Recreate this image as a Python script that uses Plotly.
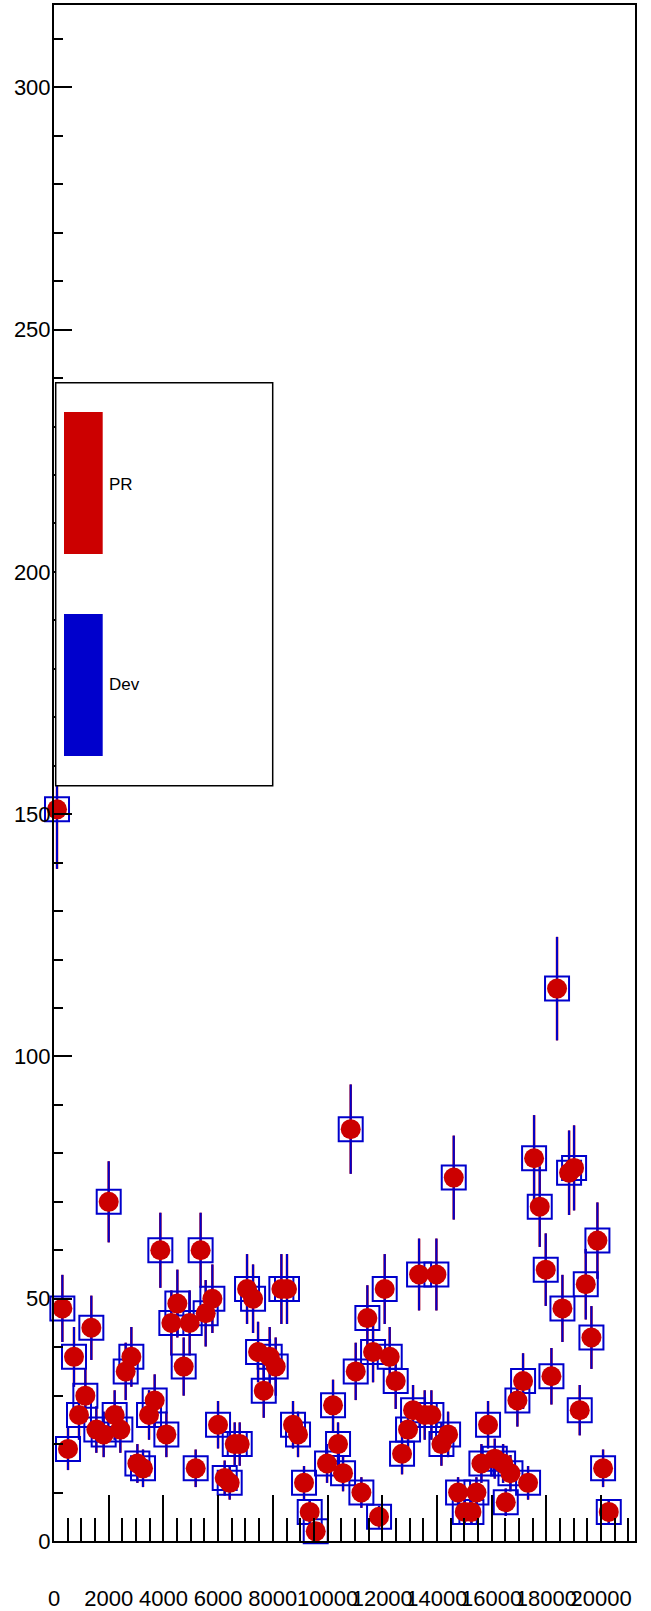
import numpy as np
import plotly.graph_objects as go

# ---- data ----
x_vals = [110, 306, 512, 731, 914, 1146, 1365, 1548, 1816, 2000,
          2218, 2426, 2621, 2828, 3048, 3254, 3474, 3681, 3888, 4108,
          4290, 4510, 4741, 4960, 5180, 5360, 5545, 5790, 5997, 6240,
          6423, 6607, 6790, 7057, 7277, 7460, 7668, 7886, 8105, 8312,
          8518, 8738, 8921, 9140, 9348, 9568, 9982, 10201, 10384, 10567,
          10847, 11030, 11237, 11456, 11664, 11883, 12090, 12273, 12492, 12724,
          12943, 13126, 13346, 13553, 13797, 13980, 14163, 14407, 14614, 14772,
          15016, 15260, 15443, 15625, 15868, 16114, 16418, 16515, 16687, 16941,
          17148, 17331, 17551, 17758, 17977, 18185, 18390, 18587, 18830, 19013,
          19220, 19440, 19647, 19866, 20073, 20281]

pr_counts = [151, 48, 19, 38, 26, 30, 44, 23, 22, 70,
             26, 23, 35, 38, 16, 15, 26, 29, 60, 22,
             45, 49, 36, 45, 15, 60, 47, 50, 24, 13,
             12, 20, 20, 52, 50, 39, 31, 38, 36, 52,
             52, 24, 22, 12, 6, 2, 16, 28, 20, 14,
             85, 35, 10, 46, 39, 5, 52, 38, 33, 18,
             23, 27, 55, 26, 26, 55, 20, 22, 75, 10,
             6, 6, 10, 16, 24, 17, 16, 8, 14, 29,
             33, 12, 79, 69, 56, 34, 114, 48, 76, 77,
             27, 53, 42, 62, 15, 6]

dev_counts = [151, 48, 19, 38, 26, 30, 44, 23, 22, 70,
              26, 23, 35, 38, 16, 15, 26, 29, 60, 22,
              45, 49, 36, 45, 15, 60, 47, 50, 24, 13,
              12, 20, 20, 52, 50, 39, 31, 38, 36, 52,
              52, 24, 22, 12, 6, 2, 16, 28, 20, 14,
              85, 35, 10, 46, 39, 5, 52, 38, 33, 18,
              23, 27, 55, 26, 26, 55, 20, 22, 75, 10,
              6, 6, 10, 16, 24, 17, 16, 8, 14, 29,
              33, 12, 79, 69, 56, 34, 114, 48, 76, 77,
              27, 53, 42, 62, 15, 6]

series_names = ["PR", "Dev"]
x_tick_vals = [0, 2000, 4000, 6000, 8000, 10000, 12000, 14000, 16000, 18000, 20000]
y_tick_vals = [0, 50, 100, 150, 200, 250, 300]

# Poisson (sqrt N) uncertainties, as drawn by the original histogram
pr_err = np.sqrt(np.array(pr_counts, dtype=float))
dev_err = np.sqrt(np.array(dev_counts, dtype=float))

RED = "#cc0000"
BLUE = "#0000cc"
FONT = "Liberation Sans, Arial, Helvetica, sans-serif"

fig = go.Figure()

# PR error bars (underneath)
fig.add_trace(go.Scatter(
    x=x_vals, y=pr_counts, mode="markers", name=series_names[0],
    marker=dict(size=1, color="rgba(0,0,0,0)"),
    error_y=dict(type="data", array=pr_err, visible=True, color=RED,
                 thickness=2.5, width=0),
    showlegend=False, cliponaxis=False, hoverinfo="skip"))

# Dev: open squares with blue error bars
fig.add_trace(go.Scatter(
    x=x_vals, y=dev_counts, mode="markers", name=series_names[1],
    marker=dict(symbol="square-open", size=24, color=BLUE,
                line=dict(width=2, color=BLUE)),
    error_y=dict(type="data", array=dev_err, visible=True, color=BLUE,
                 thickness=2, width=0),
    showlegend=False, cliponaxis=False))

# PR: filled red circles on top
fig.add_trace(go.Scatter(
    x=x_vals, y=pr_counts, mode="markers", name=series_names[0],
    marker=dict(symbol="circle", size=20, color=RED, line=dict(width=0)),
    showlegend=False, cliponaxis=False))

# ---- layout geometry ----
L, R, T, B = 54, 16, 5, 70
W, H = 651, 1611
pw, ph = W - L - R, H - T - B

def px(xp):
    return (xp - L) / pw

def py(yp):
    return (H - B - yp) / ph

shapes = [
    # legend frame
    dict(type="rect", xref="paper", yref="paper",
         x0=px(55.7), x1=px(272.7), y0=py(785.7), y1=py(382.7),
         line=dict(color="black", width=1.5), fillcolor="white", layer="above"),
    # PR swatch
    dict(type="rect", xref="paper", yref="paper",
         x0=px(64), x1=px(102.7), y0=py(554), y1=py(412),
         line=dict(width=0), fillcolor=RED, layer="above"),
    # Dev swatch
    dict(type="rect", xref="paper", yref="paper",
         x0=px(64), x1=px(102.7), y0=py(756), y1=py(614),
         line=dict(width=0), fillcolor=BLUE, layer="above"),
]

annotations = [
    dict(xref="paper", yref="paper", x=px(106.5), y=py(484.7), text=series_names[0],
         showarrow=False, xanchor="left", yanchor="middle",
         font=dict(family=FONT, size=17, color="black")),
    dict(xref="paper", yref="paper", x=px(106.5), y=py(684.7), text=series_names[1],
         showarrow=False, xanchor="left", yanchor="middle",
         font=dict(family=FONT, size=17, color="black")),
]

fig.update_layout(
    width=W, height=H,
    margin=dict(l=L, r=R, t=T, b=B, pad=0, autoexpand=False),
    paper_bgcolor="white", plot_bgcolor="white",
    showlegend=False,
    shapes=shapes, annotations=annotations,
    font=dict(family=FONT, color="black"),
)

fig.update_xaxes(
    range=[0, 21240], automargin=False,
    tickmode="array", tickvals=x_tick_vals, ticktext=[str(v) for v in x_tick_vals],
    tickangle=0,
    ticks="inside", ticklen=46, tickwidth=2, tickcolor="black",
    minor=dict(dtick=500, tick0=0, ticks="inside", ticklen=23, tickwidth=2, tickcolor="black"),
    showline=True, linewidth=2, linecolor="black", mirror=True,
    showgrid=False, zeroline=False,
    tickfont=dict(family=FONT, size=22, color="black"),
    ticklabelstandoff=37,
)

fig.update_yaxes(
    range=[0, 317], automargin=False,
    tickmode="array", tickvals=y_tick_vals, ticktext=[str(v) for v in y_tick_vals],
    ticks="inside", ticklen=18, tickwidth=2, tickcolor="black",
    minor=dict(dtick=10, tick0=0, ticks="inside", ticklen=9, tickwidth=2, tickcolor="black"),
    showline=True, linewidth=2, linecolor="black", mirror=True,
    showgrid=False, zeroline=False,
    tickfont=dict(family=FONT, size=22, color="black"),
    ticklabelstandoff=-3,
)

fig.write_html(
    "out.html",
    config={"displayModeBar": False},
    post_script="document.body.style.margin='0';document.body.style.overflow='hidden';",
)
